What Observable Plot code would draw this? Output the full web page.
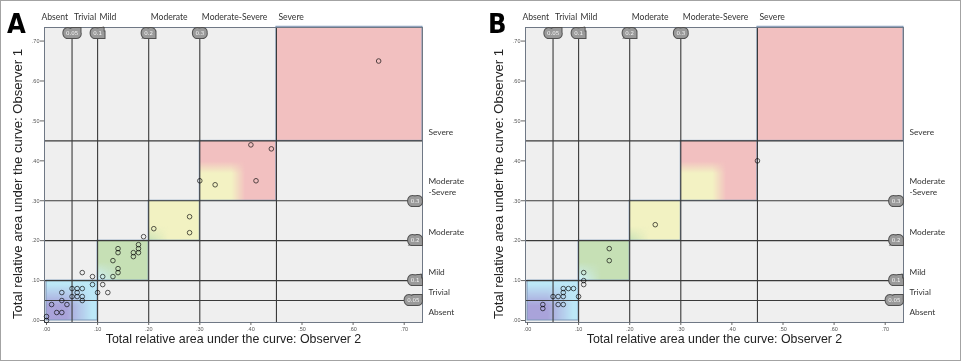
<!DOCTYPE html>
<html><head><meta charset="utf-8">
<script src="https://cdn.jsdelivr.net/npm/d3@7"></script>
<script src="https://cdn.jsdelivr.net/npm/@observablehq/plot@0.6"></script>
<style>
body{margin:0;background:#fff;}
#fig{position:relative;width:961px;height:361px;overflow:hidden;background:#fff;}
.panel{position:absolute;top:0;}
#border{position:absolute;left:0;top:0;width:961px;height:361px;box-sizing:border-box;border:1.5px solid #a3a3a3;pointer-events:none;}
#letters{position:absolute;left:0;top:0;pointer-events:none;}
</style></head>
<body>
<div id="fig">
  <div class="panel" id="pA" style="left:0px"></div>
  <div class="panel" id="pB" style="left:481px"></div>
  <svg id="letters" width="961" height="361">
    <text x="7" y="33" font-family="DejaVu Sans Condensed, DejaVu Sans" font-weight="bold" font-size="27">A</text>
    <text x="488" y="33" font-family="DejaVu Sans Condensed, DejaVu Sans" font-weight="bold" font-size="27">B</text>
  </svg>
  <div id="border"></div>
</div>
<script>
// ---- data ----
const categories = ["Absent", "Trivial", "Mild", "Moderate", "Moderate-Severe", "Severe"];
const rightLabels = ["Absent", "Trivial", "Mild", "Moderate", "Moderate\n-Severe", "Severe"];
const bounds = [0, 0.05, 0.1, 0.2, 0.3, 0.45];
const cuts = [0.05, 0.1, 0.2, 0.3];
const cutLabels = ["0.05", "0.1", "0.2", "0.3"];
const axisTicks = [0, 0.1, 0.2, 0.3, 0.4, 0.5, 0.6, 0.7];
const zoneLo = [0, 0.1, 0.2, 0.3, 0.45];
const zoneHi = [0.1, 0.2, 0.3, 0.45, 0.7358];
const xLabel = "Total relative area under the curve: Observer 2";
const yLabel = "Total relative area under the curve: Observer 1";

// Panel A: Observer 2 (x) vs Observer 1 (y)
const obs2A = [0.00,0.00,0.01,0.02,0.03,0.03,0.03,0.04,0.05,0.05,0.06,0.06,0.06,0.07,0.07,0.07,0.07,0.09,0.09,0.10,0.11,0.11,0.12,0.13,0.13,0.14,0.14,0.14,0.14,0.17,0.17,0.18,0.18,0.18,0.19,0.21,0.28,0.28,0.30,0.33,0.40,0.44,0.41,0.65];
const obs1A = [0.01,0.00,0.04,0.02,0.02,0.07,0.05,0.04,0.08,0.06,0.08,0.07,0.06,0.08,0.06,0.05,0.12,0.11,0.09,0.07,0.11,0.09,0.07,0.11,0.15,0.13,0.12,0.18,0.17,0.17,0.16,0.19,0.18,0.17,0.21,0.23,0.26,0.22,0.35,0.34,0.44,0.43,0.35,0.65];
// Panel B
const obs2B = [0.03,0.03,0.05,0.06,0.06,0.07,0.07,0.07,0.07,0.08,0.09,0.10,0.11,0.11,0.11,0.16,0.16,0.25,0.45];
const obs1B = [0.04,0.03,0.06,0.06,0.04,0.04,0.06,0.07,0.08,0.08,0.08,0.06,0.12,0.10,0.09,0.18,0.15,0.24,0.40];

const zoneFills = ["url(#pAbs)", "url(#pMild)", "url(#pMod)", "url(#pModSev)", "#f2c0c0"];
const tickFmt = d => d3.format(".2f")(d).replace(/^0/, "");

function panel(xs, ys) {
  const pts = xs.map((x, i) => ({x, y: ys[i]}));
  const zones = zoneLo.map((lo, i) => ({lo, hi: zoneHi[i]}));
  const boxText = (opts) => [
    Plot.text(opts.data, {...opts, fill: "#f5f5f5", stroke: "#505050", strokeWidth: 8, strokeLinejoin: "miter", fontSize: 5.5, fontFamily: "DejaVu Sans"}),
    Plot.text(opts.data, {...opts, fill: "#f5f5f5", stroke: "#9a9a9a", strokeWidth: 6, strokeLinejoin: "miter", fontSize: 5.5, fontFamily: "DejaVu Sans"})
  ];
  const catOpts = {frameAnchor: "top", textAnchor: "start", lineAnchor: "bottom", dy: -8, fontSize: 8.6, fontFamily: "Lato", fill: "#333"};
  return Plot.plot({
    width: 480, height: 361,
    marginLeft: 44, marginRight: 58, marginTop: 27, marginBottom: 39,
    x: {domain: [-0.0039, 0.7358]},
    y: {domain: [-0.005, 0.734]},
    style: {fontFamily: "Liberation Sans, Arial, sans-serif", background: "transparent", overflow: "visible"},
    marks: [
      Plot.frame({fill: "#efefef"}),
      ...zones.map((z, i) => Plot.rect([z], {x1: "lo", x2: "hi", y1: "lo", y2: "hi", fill: zoneFills[i], stroke: "#7b98b8", strokeWidth: 1})),
      Plot.ruleX(bounds.slice(1), {stroke: "#3a3a3a", strokeWidth: 1.1}),
      Plot.ruleY(bounds.slice(1), {stroke: "#3a3a3a", strokeWidth: 1.1}),
      Plot.frame({stroke: "#6f7885", strokeWidth: 1}),
      Plot.axisY({ticks: axisTicks, tickFormat: tickFmt, tickSize: 4, tickPadding: 1, fontSize: 5.5, label: null, color: "#555", stroke: "#666"}),
      Plot.axisX({ticks: axisTicks, tickFormat: tickFmt, tickSize: 3, tickPadding: 2, fontSize: 5.5, label: null, color: "#555", stroke: "#666"}),
      ...boxText({data: cuts, x: d => d, frameAnchor: "top", dy: 4, text: (d, i) => cutLabels[i]}),
      ...boxText({data: cuts, y: d => d, frameAnchor: "right", textAnchor: "end", dx: -3, text: (d, i) => cutLabels[i]}),
      Plot.text(bounds.slice(0, 1), {...catOpts, x: d => d, dx: -5, text: (d, i) => categories[i]}),
      Plot.text(bounds.slice(1), {...catOpts, x: d => d, dx: 2, text: (d, i) => categories[i + 1]}),
      Plot.text(bounds, {y: d => d, frameAnchor: "right", textAnchor: "start", lineAnchor: "bottom", dx: 6, dy: -6, lineHeight: 1.35, text: (d, i) => rightLabels[i], fontSize: 8.3, fontFamily: "Lato", fill: "#333"}),
      Plot.dot(pts, {x: "x", y: "y", r: 2.3, stroke: "#555", strokeWidth: 1, mixBlendMode: "multiply"}),
      Plot.text([xLabel], {frameAnchor: "bottom", dy: 20, fontSize: 12.4, fill: "#222"}),
      Plot.text([yLabel], {frameAnchor: "left", textAnchor: "middle", rotate: -90, dx: -27, dy: 9, fontSize: 13.1, fill: "#222"})
    ]
  });
}

// soft two-colour fills: base colour with a second colour in the lower-left corner
function softPattern(id, base, corner, h0, h1, v0, v1) {
  return `
    <linearGradient id="${id}H" x1="0" y1="0" x2="1" y2="0">
      <stop offset="0" stop-color="#fff"/><stop offset="${h0}" stop-color="#fff"/><stop offset="${h1}" stop-color="#000"/>
    </linearGradient>
    <linearGradient id="${id}V" x1="0" y1="1" x2="0" y2="0">
      <stop offset="0" stop-color="#fff"/><stop offset="${v0}" stop-color="#fff"/><stop offset="${v1}" stop-color="#000"/>
    </linearGradient>
    <mask id="${id}mH" maskUnits="objectBoundingBox" maskContentUnits="objectBoundingBox" x="0" y="0" width="1" height="1">
      <rect width="1" height="1" fill="url(#${id}H)"/>
    </mask>
    <mask id="${id}mV" maskUnits="objectBoundingBox" maskContentUnits="objectBoundingBox" x="0" y="0" width="1" height="1">
      <rect width="1" height="1" fill="url(#${id}V)"/>
    </mask>
    <pattern id="${id}" patternUnits="objectBoundingBox" patternContentUnits="objectBoundingBox" width="1" height="1">
      <rect width="1" height="1" fill="${base}"/>
      <g mask="url(#${id}mV)"><rect width="1" height="1" fill="${corner}" mask="url(#${id}mH)"/></g>
    </pattern>`;
}

function addDefs(svg) {
  const ns = "http://www.w3.org/2000/svg";
  const defs = document.createElementNS(ns, "defs");
  defs.innerHTML =
    softPattern("pAbs", "#bce8f7", "#a9a3da", 0.4, 0.9, 0.35, 0.9) +
    softPattern("pMild", "#c6e0b5", "#cdeef5", 0.05, 0.45, 0.05, 0.45) +
    softPattern("pMod", "#f2f2c2", "#c8e2b6", 0.0, 0.4, 0.0, 0.35) +
    softPattern("pModSev", "#f2c0c0", "#f3f2c3", 0.42, 0.6, 0.45, 0.65);
  svg.insertBefore(defs, svg.firstChild);
}

const svgA = panel(obs2A, obs1A);
const svgB = panel(obs2B, obs1B);
addDefs(svgA);
document.getElementById("pA").appendChild(svgA);
document.getElementById("pB").appendChild(svgB);
</script>
</body></html>
